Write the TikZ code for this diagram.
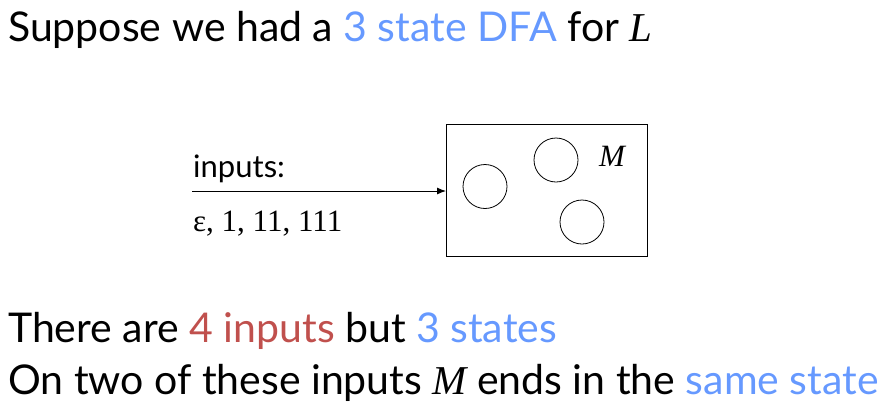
\documentclass[tikz,border=0pt]{standalone}
\usepackage{fontspec}
\setmainfont{Lato}
\newfontfamily\serifmath{Liberation Serif}
\newcommand{\var}[1]{{\serifmath\itshape #1}}
\usetikzlibrary{arrows.meta}
\definecolor{hiblue}{HTML}{6699FF}
\definecolor{hired}{HTML}{C0504D}
\begin{document}
\begin{tikzpicture}[x=1pt,y=-1pt,
  line/.style={anchor=base west,inner sep=0pt,font=\fontsize{41}{43}\selectfont},
  small/.style={anchor=base west,inner sep=0pt,font=\fontsize{31}{33}\selectfont},
  state/.style={circle,draw,line width=0.8pt,minimum size=44pt,inner sep=0pt},
  arr/.style={-{Latex[length=9pt,width=7pt]},line width=0.9pt}]
\useasboundingbox (0,0) rectangle (894,413);
% headline
\node[line] (title) at (8,41) {Suppose we had a \textcolor{hiblue}{3 state DFA} for \var{L}};
% machine box with three states
\node[draw,line width=0.9pt,minimum width=201pt,minimum height=132pt,inner sep=0pt,anchor=north west] (box) at (446,124) {};
\node[state] (q1) at (485,186.5) {};
\node[state] (q2) at (556,160) {};
\node[state] (q3) at (582,222) {};
\node[anchor=base west,inner sep=0pt,font=\fontsize{31}{33}\selectfont] (mlab) at (599,166) {\var{M}};
% input arrow
\coordinate (src) at (192,191);
\draw[arr] (src) -- (box.west |- src);
\node[small] (inlab) at (193,177) {inputs:};
\node[anchor=base west,inner sep=0pt,font=\fontsize{31}{33}\selectfont\serifmath] (inlist) at (193,231) {ε, 1, 11, 111};
% conclusions
\node[line] (l1) at (8,342) {There are \textcolor{hired}{4 inputs} but \textcolor{hiblue}{3 states}};
\node[line] (l2) at (8,394) {On two of these inputs \var{M} ends in the \textcolor{hiblue}{same state}};
\end{tikzpicture}
\end{document}
